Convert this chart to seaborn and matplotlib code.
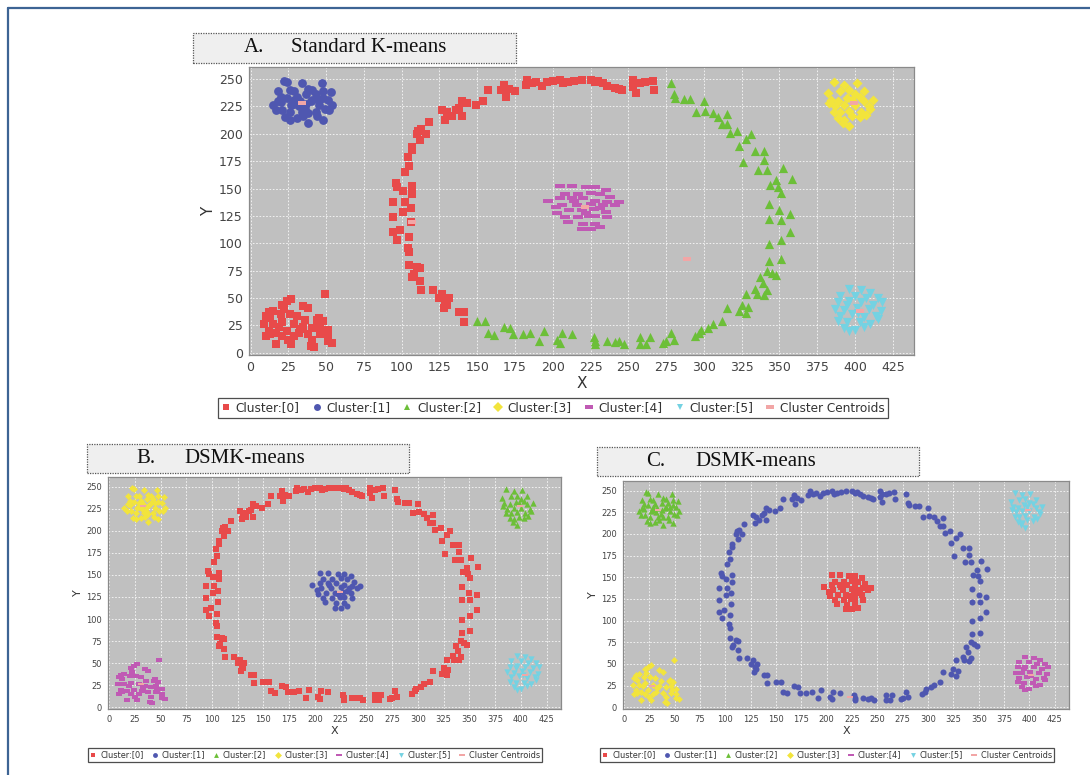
import numpy as np
import pandas as pd
import matplotlib
matplotlib.use("Agg")
import matplotlib.pyplot as plt
from matplotlib.lines import Line2D
from matplotlib.patches import Rectangle
import seaborn as sns

# ---- data (same point set in all three panels) ----
ring_left = [
    (183, 249), (186, 246), (182, 245), (189, 247), (196, 247), (200, 248), (205, 249),
    (207, 246), (210, 247), (219, 249), (225, 249), (230, 248), (233, 246), (236, 244),
    (241, 242), (244, 241), (253, 249), (255, 246), (253, 243), (255, 237), (261, 247),
    (267, 240), (175, 239), (168, 245), (166, 240), (169, 234), (157, 240), (154, 230),
    (149, 226), (140, 230), (138, 224), (136, 222), (130, 220), (127, 222), (129, 213),
    (133, 216), (140, 216), (118, 211), (113, 204), (110, 200), (116, 200), (112, 194),
    (107, 188), (104, 179), (105, 171), (102, 165), (107, 185), (96, 155), (97, 151),
    (101, 148), (107, 152), (94, 138), (102, 138), (107, 145), (106, 132), (101, 129),
    (94, 124), (106, 119), (94, 110), (97, 103), (105, 106), (104, 96), (105, 92),
    (105, 80), (110, 78), (112, 77), (107, 69), (112, 66), (113, 57), (121, 57),
    (127, 54), (129, 46), (130, 44), (138, 37), (141, 37), (141, 28), (125, 50),
    (131, 50), (128, 41), (108, 72), (99, 112), (111, 203), (143, 228), (214, 248),
    (228, 247), (246, 240), (258, 246), (266, 248), (193, 244), (171, 241),
]
ring_right = [
    (278, 246), (280, 236), (281, 233), (287, 232), (291, 232), (300, 230), (295, 220),
    (301, 221), (306, 219), (309, 215), (315, 218), (312, 209), (315, 209), (317, 201),
    (322, 203), (328, 195), (331, 200), (323, 189), (334, 184), (340, 184), (326, 174),
    (340, 176), (336, 167), (342, 167), (352, 169), (348, 158), (349, 151), (344, 153),
    (351, 146), (358, 159), (343, 136), (350, 130), (357, 127), (343, 122), (351, 121),
    (357, 110), (343, 99), (351, 103), (343, 84), (351, 86), (342, 75), (345, 73),
    (348, 71), (337, 69), (339, 64), (334, 58), (342, 57), (328, 54), (335, 54),
    (340, 53), (325, 44), (323, 38), (329, 42), (328, 36), (315, 41), (312, 29),
    (306, 26), (303, 23), (298, 21), (297, 18), (294, 15), (278, 18), (275, 11),
    (280, 12), (273, 9), (264, 14), (262, 8), (258, 14), (258, 8), (247, 8),
    (244, 11), (241, 10), (236, 11), (228, 11), (227, 14), (228, 8), (213, 17),
    (206, 18), (203, 12), (205, 9), (194, 20), (191, 11), (185, 18), (180, 17),
    (174, 17), (172, 23), (168, 24), (161, 16), (157, 18), (155, 29), (150, 29),
]
blob_top_left = [
    (22, 248), (24, 247), (34, 246), (47, 246), (18, 239), (26, 240), (29, 239), (38, 241),
    (41, 240), (48, 239), (53, 238), (20, 234), (24, 233), (31, 234), (37, 236), (43, 236),
    (48, 233), (51, 231), (54, 226), (17, 222), (21, 222), (26, 220), (32, 225), (37, 227),
    (40, 230), (45, 226), (49, 223), (15, 226), (20, 229), (29, 227), (34, 220), (38, 219),
    (43, 220), (48, 213), (26, 213), (31, 214), (38, 210), (23, 215), (35, 216), (41, 231),
    (29, 231), (18, 230), (45, 231), (33, 230), (52, 222), (27, 226), (44, 216), (36, 223),
]
blob_bottom_left = [
    (49, 54), (12, 37), (15, 38), (21, 44), (24, 47), (27, 49), (35, 43), (38, 41),
    (10, 34), (13, 32), (20, 35), (26, 35), (31, 34), (45, 32), (48, 29), (9, 26),
    (15, 26), (21, 28), (29, 26), (35, 24), (41, 23), (46, 24), (51, 21), (12, 20),
    (17, 18), (24, 20), (32, 18), (38, 17), (46, 17), (51, 15), (10, 15), (21, 15),
    (29, 15), (41, 12), (51, 11), (17, 8), (27, 8), (40, 6), (54, 9), (13, 17),
    (42, 5), (33, 22), (22, 40), (44, 30), (36, 30), (25, 12), (47, 20), (19, 24),
]
blob_center = [
    (205, 152), (213, 152), (222, 151), (228, 151), (235, 149), (208, 145), (217, 145),
    (225, 146), (231, 145), (197, 139), (205, 141), (213, 141), (220, 141), (228, 139),
    (236, 138), (244, 138), (206, 135), (216, 135), (225, 136), (233, 135), (241, 135),
    (203, 128), (211, 130), (219, 130), (227, 131), (235, 129), (208, 124), (217, 124),
    (228, 125), (236, 124), (210, 119), (220, 118), (228, 118), (219, 113), (225, 113),
    (231, 115), (214, 139), (224, 125), (202, 133), (238, 142), (222, 128), (231, 132),
]
blob_top_right = [
    (386, 247), (393, 245), (401, 246), (382, 237), (390, 239), (396, 240), (406, 239),
    (384, 231), (389, 230), (395, 233), (403, 234), (412, 231), (387, 225), (393, 226),
    (400, 226), (409, 225), (390, 220), (396, 221), (404, 220), (410, 223), (389, 214),
    (393, 213), (398, 216), (403, 215), (396, 207), (392, 210), (406, 230), (386, 220),
    (400, 236), (398, 231), (407, 217), (383, 228),
]
blob_bottom_right = [
    (396, 58), (404, 57), (410, 55), (390, 52), (400, 52), (407, 50), (415, 50), (389, 46),
    (396, 47), (404, 46), (412, 44), (418, 46), (387, 40), (393, 39), (401, 41), (409, 40),
    (417, 38), (390, 34), (398, 35), (406, 33), (414, 34), (389, 29), (395, 28), (403, 28),
    (410, 26), (393, 23), (400, 21), (406, 24), (396, 20), (415, 31), (402, 36), (395, 44),
]

# cluster id of each point group, per panel
labels_a = {"ring_left": 0, "ring_right": 2, "blob_top_left": 1, "blob_bottom_left": 0,
            "blob_center": 4, "blob_top_right": 3, "blob_bottom_right": 5}
labels_b = {"ring_left": 0, "ring_right": 0, "blob_top_left": 3, "blob_bottom_left": 4,
            "blob_center": 1, "blob_top_right": 2, "blob_bottom_right": 5}
labels_c = {"ring_left": 1, "ring_right": 1, "blob_top_left": 2, "blob_bottom_left": 3,
            "blob_center": 0, "blob_top_right": 5, "blob_bottom_right": 4}

centroids_a = [(107, 119), (34, 228), (289, 86), (399, 228), (221, 133), (403, 38)]
centroids_b = [(224, 131), (33, 228), (399, 228), (31, 26), (404, 37)]
centroids_c = [(223, 12), (34, 227), (28, 24), (402, 37), (399, 228)]

groups = {
    "ring_left": ring_left, "ring_right": ring_right, "blob_top_left": blob_top_left,
    "blob_bottom_left": blob_bottom_left, "blob_center": blob_center,
    "blob_top_right": blob_top_right, "blob_bottom_right": blob_bottom_right,
}

cluster_names = [f"Cluster:[{i}]" for i in range(6)]
colors = ["#e84a4a", "#4f57b0", "#6cbf38", "#f2e43c", "#c05ab4", "#74d2e2"]
centroid_color = "#f2a6a6"
dash = [(-1, -0.5), (1, -0.5), (1, 0.5), (-1, 0.5), (-1, -0.5)]
markers = ["s", "o", "^", "D", dash, "v"]
size_scale = [1.0, 1.0, 1.1, 0.65, 1.2, 1.1]

W, H = 1090, 775


def fx(px):
    return px / W


def fy(py):
    return 1 - py / H


def build_frame(labels):
    rows = []
    for name, pts in groups.items():
        for x, y in pts:
            rows.append((x, y, cluster_names[labels[name]]))
    return pd.DataFrame(rows, columns=["x", "y", "cluster"])


def draw_panel(ax, labels, centroids, msize, tick_fs, label_fs):
    df = build_frame(labels)
    ax.set_facecolor("#c0c0c0")
    ax.set_axisbelow(True)
    ax.grid(True, color="white", linestyle=(0, (2, 2)), linewidth=0.6, alpha=0.9)
    for i, name in enumerate(cluster_names):
        sub = df[df["cluster"] == name]
        if sub.empty:
            continue
        sns.scatterplot(data=sub, x="x", y="y", ax=ax, color=colors[i],
                        marker=markers[i], s=msize * size_scale[i],
                        linewidth=0, legend=False, zorder=3)
    cx = [c[0] for c in centroids]
    cy = [c[1] for c in centroids]
    ax.scatter(cx, cy, marker=dash, s=msize * 0.7, color=centroid_color,
               linewidths=0, zorder=4)
    ax.set_xlim(-1, 439)
    ax.set_ylim(-2, 261)
    ax.set_xticks(np.arange(0, 426, 25))
    ax.set_yticks(np.arange(0, 251, 25))
    ax.tick_params(labelsize=tick_fs, colors="#444444", length=2.5, width=0.6,
                   pad=2)
    for sp in ax.spines.values():
        sp.set_color("#8a8a8a")
        sp.set_linewidth(0.9)
    ax.set_xlabel("X", fontsize=label_fs, color="#333333", labelpad=1)
    ax.set_ylabel("Y", fontsize=label_fs, color="#333333", labelpad=2)


def title_box(fig, x0, y0, x1, y1, letter, text, letter_x, text_x):
    fig.add_artist(Rectangle((fx(x0), fy(y1)), fx(x1 - x0), (y1 - y0) / H,
                             transform=fig.transFigure, facecolor="#efefef",
                             edgecolor="#555555", linestyle=(0, (1, 1)),
                             linewidth=0.9))
    yc = fy((y0 + y1) / 2)
    fig.text(fx(letter_x), yc, letter, fontsize=15, family="Liberation Serif",
             va="center", ha="left", color="#111111")
    fig.text(fx(text_x), yc, text, fontsize=15, family="Liberation Serif",
             va="center", ha="left", color="#111111")


def panel_legend(fig, cx, cy, fs, ms):
    handles = []
    for i, name in enumerate(cluster_names):
        handles.append(Line2D([], [], linestyle="none", marker=markers[i],
                              color=colors[i], markersize=ms * (1.2 if i == 4 else 1.0),
                              markeredgewidth=0, label=name))
    handles.append(Line2D([], [], linestyle="none", marker=dash, color=centroid_color,
                          markersize=ms * 1.2, markeredgewidth=0,
                          label="Cluster Centroids"))
    leg = fig.legend(handles=handles, loc="center", bbox_to_anchor=(fx(cx), fy(cy)),
                     ncol=7, fontsize=fs, frameon=True, fancybox=False,
                     edgecolor="#222222", handlelength=0.8, handletextpad=0.4,
                     columnspacing=1.0, borderpad=0.3, borderaxespad=0)
    leg.get_frame().set_linewidth(0.9)
    for t in leg.get_texts():
        t.set_color("#333333")


sns.set_style("white")
plt.rcParams["font.family"] = ["DejaVu Sans"]

fig = plt.figure(figsize=(W / 100, H / 100), dpi=100)
fig.patch.set_facecolor("white")

# outer frame (top and left edges visible)
fig.add_artist(Line2D([fx(8), 1], [fy(8), fy(8)], color="#3d6494", linewidth=1.6,
                      transform=fig.transFigure))
fig.add_artist(Line2D([fx(8), fx(8)], [fy(8), 0], color="#3d6494", linewidth=1.6,
                      transform=fig.transFigure))

ax_a = fig.add_axes([fx(249), fy(355), fx(914 - 249), (355 - 67) / H])
draw_panel(ax_a, labels_a, centroids_a, msize=40, tick_fs=9, label_fs=11)

ax_b = fig.add_axes([fx(108), fy(709), fx(561 - 108), (709 - 477) / H])
draw_panel(ax_b, labels_b, centroids_b, msize=19, tick_fs=6, label_fs=8)

ax_c = fig.add_axes([fx(623), fy(709), fx(1069 - 623), (709 - 481) / H])
draw_panel(ax_c, labels_c, centroids_c, msize=19, tick_fs=6, label_fs=8)

title_box(fig, 193, 33, 516, 63, "A.", "Standard K-means", 244, 291)
title_box(fig, 87, 444, 409, 473, "B.", "DSMK-means", 136, 184)
title_box(fig, 597, 447, 919, 476, "C.", "DSMK-means", 646, 695)

panel_legend(fig, 553, 408, fs=8.7, ms=5)
panel_legend(fig, 315, 755, fs=5.9, ms=3.5)
panel_legend(fig, 827, 755, fs=5.9, ms=3.5)

fig.savefig("out.png", dpi=100)
